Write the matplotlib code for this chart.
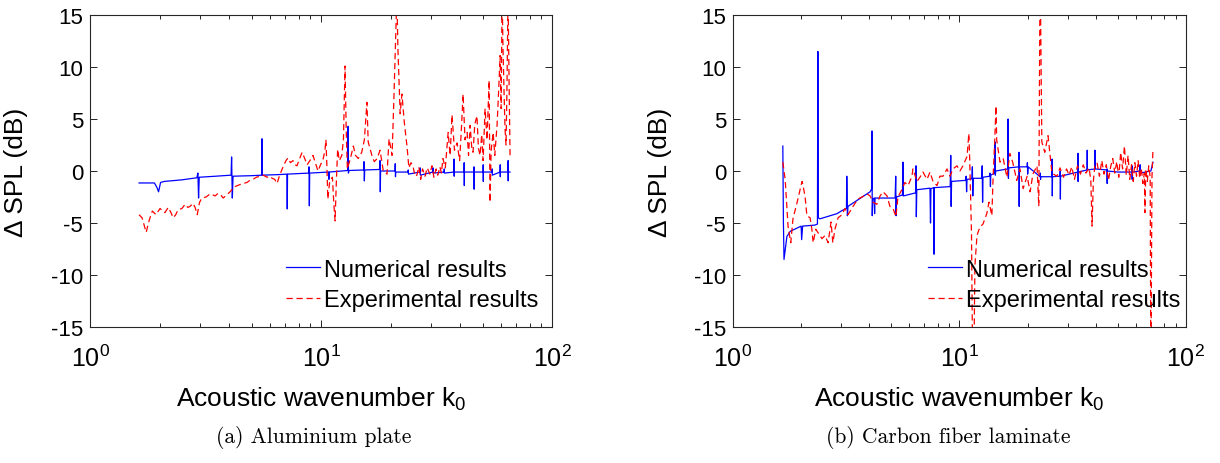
import matplotlib
matplotlib.use("Agg")
import matplotlib.pyplot as plt
import numpy as np

plt.rcParams['font.family'] = ['Liberation Sans', 'DejaVu Sans']
plt.rcParams['mathtext.default'] = 'regular'
plt.rcParams['axes.unicode_minus'] = False

# ---- (a) aluminium plate ----
al_num_k = [1.63, 1.90, 1.95, 1.98, 2.02, 2.10, 2.50, 2.90, 2.93, 2.95, 2.97, 3.50, 4.08, 4.10, 4.13, 4.16,
            5.00, 5.53, 5.55, 5.57, 6.50, 7.12, 7.14, 7.16, 8.85, 8.87, 8.90, 8.93, 10.8, 10.82, 10.85,
            13.05, 13.1, 13.14, 13.2, 15.3, 15.35, 15.4, 15.45, 17.95, 18.0, 18.05, 18.1,
            20.9, 20.95, 21.0, 21.05, 23.8, 23.85, 23.9, 26.8, 26.85, 26.9, 30.5, 30.55, 30.6,
            34.1, 34.15, 34.2, 37.6, 37.65, 37.7, 37.75, 41.6, 41.65, 41.7, 41.75,
            45.9, 45.95, 46.0, 46.05, 50.3, 50.35, 50.4, 50.45, 55.0, 55.05, 55.1,
            59.6, 59.65, 59.7, 59.75, 64.5, 64.55, 64.6, 64.65, 65.8]
al_num_db = [-1.15, -1.15, -1.6, -2.0, -1.1, -1.0, -0.85, -0.65, -0.2, -2.6, -0.6, -0.5, -0.4, 1.35, -2.6, -0.5,
             -0.45, -0.4, 3.1, -0.4, -0.35, -0.3, -3.65, -0.3, -0.2, 0.4, -3.35, -0.2, -0.1, -0.8, -0.1,
             0.05, 4.3, -0.2, 0.05, 0.1, 0.9, -0.95, 0.1, 0.15, 1.0, -2.0, 0.0,
             0.0, 0.7, -0.55, -0.1, -0.1, 0.1, -0.3, -0.1, 0.3, -0.4, -0.1, 0.3, -0.2,
             -0.1, 0.2, -0.2, -0.1, 1.15, -0.5, -0.1, -0.1, 0.8, -1.4, -0.1,
             -0.1, 0.4, -1.75, -0.1, -0.1, 0.6, -1.0, -0.1, -0.1, 0.2, -0.4,
             -0.1, 0.6, -0.55, -0.1, -0.1, 1.0, -0.95, -0.1, -0.1]

al_exp_k = [1.63, 1.68, 1.75, 1.80, 1.86, 1.93, 2.01, 2.07, 2.11, 2.18, 2.24, 2.29, 2.35, 2.40, 2.50, 2.58,
            2.65, 2.71, 2.79, 2.85, 2.91, 2.98, 3.05, 3.18, 3.31, 3.40, 3.48, 3.56, 3.65, 3.77, 3.90,
            4.04, 4.14, 4.24, 4.35, 4.46, 4.62, 4.78, 4.92, 5.08, 5.25, 5.45, 5.62, 5.84, 6.0, 6.14,
            6.30, 6.45, 6.62, 6.85, 7.05, 7.20, 7.37, 7.56, 7.72, 7.87, 8.08, 8.28, 8.5, 8.70, 8.95,
            9.23, 9.45, 9.70, 9.95, 10.2, 10.4, 10.5, 10.6, 10.7, 10.9, 11.2, 11.35, 11.5, 11.65, 11.8,
            12.0, 12.3, 12.5, 12.7, 12.85, 13.0, 13.4, 13.8, 14.1, 14.5, 15.0, 15.4, 15.8, 16.0, 16.6,
            17.0, 17.5, 18.0, 18.6, 19.3, 19.7, 20.3, 20.7, 21.1, 21.3, 21.5, 22.0, 22.4, 22.9, 23.6,
            24.0, 24.5, 25.0, 25.5, 26.0, 26.5, 27.0, 27.5, 28.2, 28.8, 29.6, 30.2, 30.8, 31.5, 32.0,
            32.7, 33.2, 33.7, 34.5, 35.5, 36.2, 36.9, 37.8, 38.8, 39.8, 40.5, 41.2, 42.0, 42.9, 43.5,
            44.2, 45.0, 45.5, 46.3, 47.3, 48.0, 48.8, 49.6, 50.3, 51.3, 52.3, 53.4, 53.9, 54.5, 55.6,
            56.5, 57.8, 58.8, 59.6, 60.2, 60.8, 61.3, 62.0, 62.6, 63.2, 63.8, 64.5, 65.2, 65.8]
al_exp_db = [-4.2, -4.5, -5.9, -4.8, -3.85, -4.2, -3.6, -3.9, -4.0, -3.5, -4.0, -4.5, -4.2, -3.75, -3.6, -3.2,
             -3.5, -3.4, -3.1, -3.5, -4.2, -3.0, -2.6, -2.5, -2.2, -2.3, -2.4, -2.2, -2.2, -2.6, -2.3,
             -2.0, -1.7, -1.5, -1.4, -1.3, -1.2, -1.1, -0.9, -0.8, -0.6, -0.5, -0.4, -0.6, -0.5, -0.7,
             -0.8, -1.2, -0.4, 0.4, 1.0, 1.25, 0.8, 1.0, 0.6, 0.5, 1.2, 1.8, 1.2, 0.6, 1.0,
             1.5, 0.8, 0.0, 0.6, 1.1, 2.0, 3.0, 0.5, -2.7, -1.0, -0.6, -3.0, -4.8, -1.0, 2.1,
             1.0, 1.5, 3.0, 10.1, 4.0, 0.2, 1.2, 2.4, 1.5, 1.2, 1.8, 3.0, 6.6, 2.8, 1.5,
             0.9, 1.2, 2.0, 0.0, -0.3, 3.1, 1.5, 7.4, 14.0, 17.0, 12.0, 5.5, 7.4, 4.8, 2.2,
             0.3, 0.8, 0.5, -0.5, -0.4, 0.4, -0.8, 0.2, -0.5, 0.3, -0.3, 0.5, -0.6, 0.2, -0.4,
             0.4, -0.2, 1.2, 0.3, 3.7, 1.5, 5.4, 2.0, 2.7, 1.0, 4.0, 7.4, 3.0, 3.7, 1.5,
             4.4, 2.0, 1.8, 4.5, 5.3, 2.2, 1.5, 3.5, 1.0, 6.0, 3.0, 8.7, -3.0, 2.0, 3.7,
             1.5, 4.4, 8.0, 11.1, 6.0, 17.0, 12.0, 7.4, 4.0, 2.5, 8.0, 17.0, 8.0, 1.5]

# ---- (b) carbon fiber laminate ----
cf_num_k = [1.66, 1.67, 1.68, 1.73, 1.79, 2.00, 2.01, 2.03, 2.30, 2.36, 2.37, 2.38, 2.42, 2.88, 3.03,
            3.17, 3.18, 3.20, 3.22, 4.03, 4.10, 4.11, 4.12, 4.14, 4.20, 4.22, 4.24,
            5.20, 5.23, 5.25, 5.27, 5.60, 5.63, 5.65, 6.40, 6.43, 6.45, 6.48,
            7.41, 7.45, 7.48, 7.70, 7.72, 7.74, 9.10, 9.15, 9.19, 9.23,
            10.65, 10.7, 10.75, 10.8, 11.35, 11.4, 11.45, 11.5, 12.55, 12.6, 12.65, 12.7,
            13.6, 13.65, 13.7, 13.75, 14.3, 14.35, 14.4, 14.45, 16.35, 16.4, 16.45, 16.5,
            18.25, 18.3, 18.35, 18.4, 19.9, 19.95, 20.0, 20.1, 22.0, 22.7, 22.75, 22.8, 22.85,
            25.6, 25.65, 25.7, 25.75, 27.8, 27.85, 27.9, 27.95, 33.3, 33.35, 33.4, 33.45,
            36.6, 36.65, 36.7, 39.6, 39.65, 39.7, 44.8, 44.85, 44.9, 44.95, 50.0,
            57.8, 57.85, 57.9, 57.95, 62.7, 62.75, 62.8, 70.0, 71.5]
cf_num_db = [2.4, -5.0, -8.5, -6.3, -5.8, -5.3, -6.6, -5.3, -5.2, -5.1, 11.5, -4.5, -4.6, -4.1, -3.8,
             -3.6, -0.5, -4.3, -3.4, -2.0, -1.7, 3.85, -4.3, -2.7, -2.6, -4.1, -2.6,
             -2.6, -0.5, -4.3, -2.5, -2.3, 0.85, -2.4, -2.1, 0.5, -4.4, -1.8,
             -1.65, -5.0, -1.7, -1.6, -8.0, -1.6, -1.5, 1.5, -3.4, -1.0,
             -0.9, -0.5, -2.0, -0.8, -0.75, 0.4, -2.4, -0.7, -0.7, 0.5, -3.0, -0.6,
             -0.5, -0.2, -1.5, -0.4, -0.2, 2.8, -0.4, 0.0, 0.2, 5.0, -0.7, 0.3,
             0.4, 1.8, -3.4, 0.4, 0.4, 0.8, -0.3, 0.4, -0.3, -0.55, -0.2, -0.8, -0.55,
             -0.55, 1.15, -2.4, -0.55, -0.5, 0.0, -2.7, -0.5, -0.1, 1.7, -1.0, -0.1,
             0.1, 2.0, 0.1, 0.2, 2.0, 0.2, 0.1, 0.2, -1.2, 0.0, -0.1,
             -0.1, 0.5, -0.8, -0.1, 0.0, 0.6, -0.2, 0.0, 0.85]

cf_exp_k = [1.66, 1.70, 1.75, 1.80, 1.84, 1.92, 1.98, 2.02, 2.08, 2.12, 2.19, 2.23, 2.26, 2.32, 2.37,
            2.47, 2.55, 2.63, 2.71, 2.76, 2.82, 2.91, 3.03, 3.12, 3.22, 3.39, 3.56, 3.71, 3.91, 4.03,
            4.15, 4.32, 4.46, 4.60, 4.79, 4.93, 5.09, 5.24, 5.35, 5.58, 5.74, 5.93, 6.17, 6.23, 6.49,
            6.69, 6.90, 7.19, 7.41, 7.64, 7.96, 8.20, 8.46, 8.81, 9.08, 9.36, 9.75, 10.05, 10.36, 10.8,
            11.0, 11.1, 11.3, 11.45, 11.55, 11.7, 11.95, 12.3, 12.7, 13.2, 13.5, 13.9, 14.05, 14.3, 14.5,
            14.6, 15.1, 15.6, 16.2, 16.7, 17.2, 17.9, 18.5, 19.1, 19.9, 20.5, 21.1, 22.0, 22.4, 22.7,
            23.1, 23.8, 24.6, 25.6, 26.9, 27.8, 28.8, 29.7, 30.5, 31.3, 32.2, 33.2, 34.2, 35.2, 36.2,
            37.3, 38.0, 38.5, 39.0, 39.6, 40.5, 41.5, 42.5, 43.5, 44.5, 45.5, 46.5, 47.5, 48.5, 49.5,
            50.5, 51.5, 52.5, 53.5, 54.5, 55.5, 56.5, 57.5, 58.5, 59.5, 60.5, 61.5, 62.5, 63.5, 64.5,
            65.5, 65.9, 66.5, 67.5, 68.5, 69.5, 70.0, 70.8, 71.5]
cf_exp_db = [0.85, -0.8, -5.3, -6.9, -4.6, -3.0, -1.75, -1.0, -2.4, -4.3, -4.5, -5.6, -6.9, -5.6, -5.9,
             -6.5, -6.2, -6.9, -4.9, -6.9, -5.6, -4.5, -4.2, -3.6, -4.2, -3.4, -2.7, -2.5, -2.2, -2.4,
             -3.0, -3.2, -2.4, -2.0, -2.4, -3.4, -3.6, -4.4, -2.5, -1.75, -1.1, -1.4, -0.5, 0.2, -1.0,
             -0.6, -0.1, -0.8, -0.1, -1.0, -1.4, -0.5, -0.5, 0.2, -0.5, 0.2, 0.5, 0.0, 0.5, 1.4,
             3.6, 1.0, -6.0, -20.0, -20.0, -9.1, -6.2, -5.4, -5.1, -4.1, -3.0, -4.3, -1.1, 2.8, 6.25,
             3.0, 0.85, 1.2, -0.6, 1.7, 0.8, -0.9, 0.2, -1.7, -0.5, -2.0, -0.3, 0.5, -3.4, 20.0,
             2.8, 1.8, 3.4, -0.2, -0.5, 0.3, -0.6, 0.2, -0.4, 0.4, -0.8, 0.5, -0.3, 0.6, -0.2,
             0.3, -0.8, -5.3, -1.0, 0.5, 0.8, -0.5, 1.0, -0.3, 0.6, -0.9, 0.4, 1.2, -0.2, 0.9,
             -0.6, 1.8, 0.2, 2.4, -0.4, 1.5, -0.8, 0.6, -1.0, 0.8, -0.5, 1.0, -0.7, 0.3, -1.2,
             -0.2, -4.0, 0.2, -1.0, 0.5, -0.6, -20.0, -0.5, 2.1]

panels = [
    (al_num_k, al_num_db, al_exp_k, al_exp_db, '(a) Aluminium plate'),
    (cf_num_k, cf_num_db, cf_exp_k, cf_exp_db, '(b) Carbon fiber laminate'),
]

fig = plt.figure(figsize=(12.2, 4.64), dpi=100)
ax_pos = [[0.0738, 0.2931, 0.3787, 0.6724], [0.6008, 0.2931, 0.3713, 0.6724]]
leg_anchor = [(0.995, 0.014), (1.013, 0.014)]
cap_x = [0.257, 0.777]

for i, (nk, ndb, ek, edb, cap) in enumerate(panels):
    ax = fig.add_axes(ax_pos[i])
    ax.plot(nk, ndb, color='#0000ff', lw=0.9, label='Numerical results')
    ax.plot(ek, edb, color='#ff0000', lw=0.9, linestyle=(0, (5, 3)), label='Experimental results')
    ax.set_xscale('log')
    ax.set_xlim(1, 100)
    ax.set_ylim(-15, 15)
    ax.set_yticks([-15, -10, -5, 0, 5, 10, 15])
    ax.tick_params(which='both', direction='in', top=True, right=True, width=0.6)
    ax.tick_params(axis='y', labelsize=16, pad=5)
    ax.tick_params(axis='x', labelsize=18, pad=13)
    ax.tick_params(which='major', length=5)
    ax.tick_params(which='minor', length=3)
    for s in ax.spines.values():
        s.set_linewidth(0.8)
        s.set_color('#262626')
    ax.set_xlabel('Acoustic wavenumber k$_0$', fontsize=19)
    ax.set_ylabel('Δ SPL (dB)', fontsize=19)
    ax.xaxis.set_label_coords(0.5, -0.185)
    ax.yaxis.set_label_coords(-0.135, 0.5)
    ax.legend(loc='lower right', bbox_to_anchor=leg_anchor[i], frameon=False, fontsize=17,
              handlelength=1.45, handletextpad=0.15, labelspacing=0.35, borderpad=0.0)
    fig.text(cap_x[i], 0.058, cap, family='cmr10', fontsize=15.5, ha='center', va='center')

fig.savefig('out.png', dpi=100)
